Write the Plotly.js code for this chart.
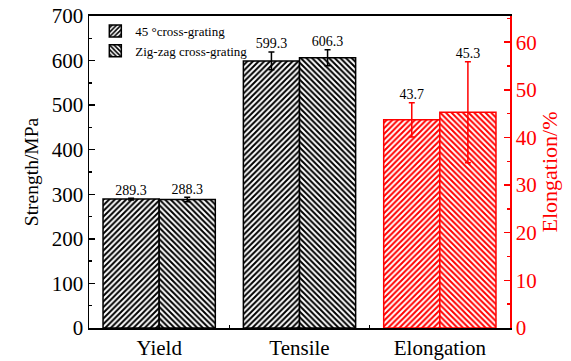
<!DOCTYPE html>
<html>
<head>
<meta charset="utf-8">
<script src="https://cdn.plot.ly/plotly-3.0.1.min.js"></script>
<style>html,body{margin:0;padding:0;background:#fff}#chart{width:571px;height:361px}</style>
</head>
<body>
<div id="chart"></div>
<script>
// Data
const categories = ["Yield", "Tensile", "Elongation"];
const seriesNames = ["45 °cross-grating", "Zig-zag cross-grating"];
const strength45 = [289.3, 599.3];      // Yield, Tensile (MPa)
const strength45Err = [2, 20];
const strengthZig = [288.3, 606.3];
const strengthZigErr = [5, 18];
const elong45 = [43.7];                 // Elongation (%)
const elong45Err = [3.6];
const elongZig = [45.3];
const elongZigErr = [10.6];

const FONT = "Liberation Serif";
const RED = "#ff0000";
const idx = categories.map((c, i) => i);
const strIdx = idx.slice(0, 2);
const elIdx = idx.slice(2);
const BW = 0.4;

function barTrace(x, y, err, name, shape, color, yaxis, offset, showlegend) {
  return {
    type: "bar", x: x, y: y, name: name, yaxis: yaxis,
    width: x.map(() => BW), offset: x.map(() => offset),
    showlegend: showlegend, legendgroup: name,
    marker: {
      color: "white",
      line: {color: color, width: 1.5},
      pattern: {shape: shape, fgcolor: color, bgcolor: "white", size: 4, solidity: 0.5}
    },
    error_y: {type: "data", array: err, visible: true, color: color, thickness: 1.5, width: 3}
  };
}
function fmt(v){ return v.toFixed(1); }

const traces = [
  barTrace(strIdx, strength45, strength45Err, seriesNames[0], "/", "black", "y", -BW, true),
  barTrace(strIdx, strengthZig, strengthZigErr, seriesNames[1], "\\", "black", "y", 0, true),
  barTrace(elIdx, elong45, elong45Err, seriesNames[0], "/", RED, "y2", -BW, false),
  barTrace(elIdx, elongZig, elongZigErr, seriesNames[1], "\\", RED, "y2", 0, false),
  {
    type: "scatter", mode: "text", showlegend: false, hoverinfo: "skip",
    x: strIdx.map(i => i - BW/2).concat(strIdx.map(i => i + BW/2)),
    y: strength45.map((v, i) => v + strength45Err[i]).concat(strengthZig.map((v, i) => v + strengthZigErr[i])),
    text: strength45.map(fmt).concat(strengthZig.map(fmt)),
    textposition: "top center",
    textfont: {family: FONT, size: 14, color: "black"}
  },
  {
    type: "scatter", mode: "text", showlegend: false, hoverinfo: "skip", yaxis: "y2",
    x: elIdx.map(i => i - BW/2).concat(elIdx.map(i => i + BW/2)),
    y: elong45.map((v, i) => v + elong45Err[i]).concat(elongZig.map((v, i) => v + elongZigErr[i])),
    text: elong45.map(fmt).concat(elongZig.map(fmt)),
    textposition: "top center",
    textfont: {family: FONT, size: 14, color: "black"}
  }
];

const layout = {
  width: 571, height: 361,
  margin: {l: 89, r: 61, t: 16, b: 33},
  paper_bgcolor: "white", plot_bgcolor: "white",
  font: {family: FONT, color: "black"},
  showlegend: true,
  legend: {x: 0.015, y: 1, xanchor: "left", yanchor: "top", bgcolor: "rgba(0,0,0,0)",
           font: {family: FONT, size: 13, color: "black"}, tracegroupgap: 0, itemwidth: 30},
  xaxis: {
    range: [-0.5, 2.5], tickmode: "array", tickvals: idx, ticktext: categories,
    ticks: "", showgrid: false, zeroline: false,
    showline: true, linecolor: "black", linewidth: 2, mirror: true,
    tickfont: {family: FONT, size: 21, color: "black"},
    minor: {tickmode: "array", tickvals: [0.5, 1.5], ticks: "inside", ticklen: 3, tickcolor: "black", tickwidth: 1.5, showgrid: false}
  },
  yaxis: {
    range: [0, 700], dtick: 100, ticks: "inside", ticklen: 6, tickwidth: 1.5, tickcolor: "black",
    showgrid: false, zeroline: false, showline: true, linecolor: "black", linewidth: 1.5,
    tickfont: {family: FONT, size: 21, color: "black"},
    minor: {dtick: 50, ticks: "inside", ticklen: 3, tickwidth: 1.5, tickcolor: "black", showgrid: false},
    title: {text: "Strength/MPa", font: {family: FONT, size: 19.5, color: "black"}, standoff: 8}
  },
  yaxis2: {
    overlaying: "y", side: "right", range: [0, 65.5], dtick: 10,
    ticks: "inside", ticklen: 6, tickwidth: 1.5, tickcolor: RED,
    showgrid: false, zeroline: false, showline: true, linecolor: RED, linewidth: 1.5,
    tickfont: {family: FONT, size: 21, color: RED},
    minor: {dtick: 5, ticks: "inside", ticklen: 3, tickwidth: 1.5, tickcolor: RED, showgrid: false},
    title: {text: "Elongation/%", font: {family: FONT, size: 22, color: RED}, standoff: 6}
  }
};

Plotly.newPlot("chart", traces, layout, {staticPlot: true, displayModeBar: false});
</script>
</body>
</html>
